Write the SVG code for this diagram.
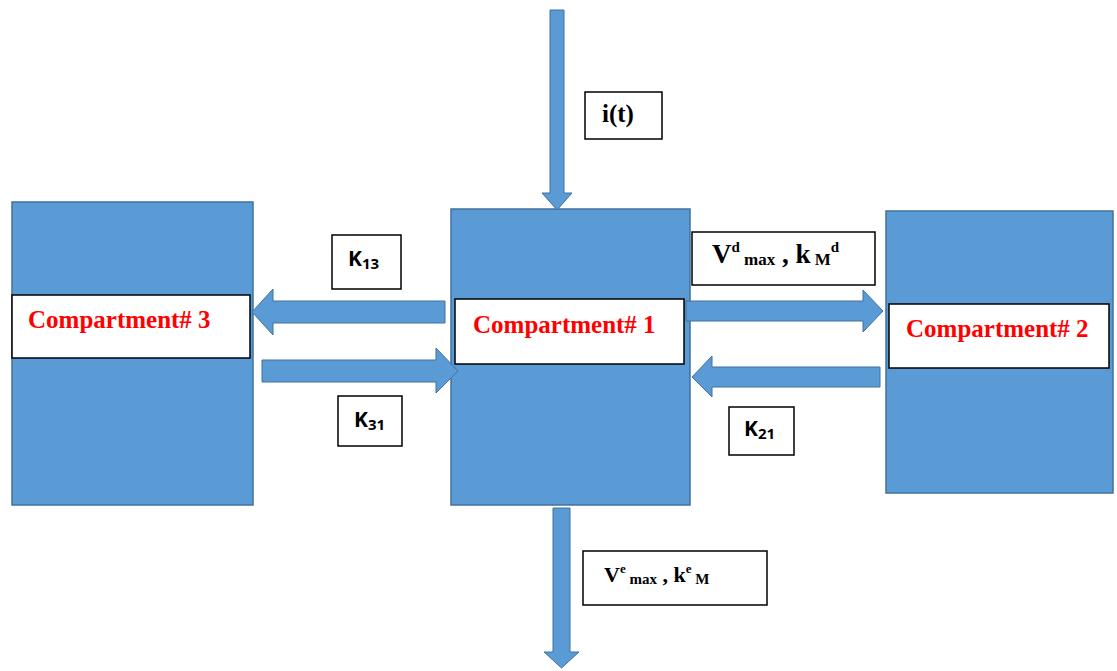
<svg xmlns="http://www.w3.org/2000/svg" width="1117" height="671" viewBox="0 0 1117 671">
<style>
.comp{fill:#5B9BD5;stroke:#41719C;stroke-width:1.5}
.arr{fill:#5B9BD5;stroke:#41719C;stroke-width:1}
.lbl{fill:#fff;stroke:#000;stroke-width:1.5}
.ct{font-family:"Liberation Serif",serif;font-weight:bold;font-size:25px;fill:#FF0000}
.tm{font-family:"Liberation Serif",serif;font-weight:bold;fill:#000}
.k{font-family:"Open Sans","Liberation Sans",sans-serif;font-weight:bold;fill:#000}
</style>
<rect width="1117" height="671" fill="#fff"/>
<g id="compartment3">
<rect class="comp" x="12" y="202" width="241" height="303"/>
<rect class="lbl" x="12" y="295" width="238" height="63"/>
<text class="ct" x="28" y="328">Compartment# 3</text>
</g>
<g id="compartment1">
<rect class="comp" x="451" y="209" width="239" height="296"/>
<rect class="lbl" x="455" y="299" width="229" height="65"/>
<text class="ct" x="473" y="333">Compartment# 1</text>
</g>
<g id="compartment2">
<rect class="comp" x="886" y="211" width="227" height="282"/>
<rect class="lbl" x="889" y="304" width="220" height="64"/>
<text class="ct" x="906" y="337">Compartment# 2</text>
</g>
<g id="connectors">
<polygon class="arr" points="550,10 564,10 564,193 572,193 557,210 542,193 550,193"/>
<polygon class="arr" points="553,508 570,508 570,652 579,652 561.5,668 544,652 553,652"/>
<polygon class="arr" points="445,301 273,301 273,289 252,312 273,335 273,323 445,323"/>
<polygon class="arr" points="262,360 436,360 436,348 458,371 436,393 436,382 262,382"/>
<polygon class="arr" points="686,301 863,301 863,290 883,311 863,332 863,321 686,321"/>
<polygon class="arr" points="880,367 712,367 712,356 692,377 712,397 712,387 880,387"/>
</g>
<g id="label-it">
<rect class="lbl" x="585" y="92" width="77" height="47"/>
<text class="tm" x="602" y="122" font-size="25">i(t)</text>
</g>
<g id="label-k13">
<rect class="lbl" x="332" y="235" width="69" height="54"/>
<text class="k" x="348" y="266" font-size="21">K<tspan font-size="15" dy="3">13</tspan></text>
</g>
<g id="label-k31">
<rect class="lbl" x="338" y="396" width="64" height="50"/>
<text class="k" x="354" y="427" font-size="21">K<tspan font-size="15" dy="3">31</tspan></text>
</g>
<g id="label-k21">
<rect class="lbl" x="729" y="407" width="65" height="48"/>
<text class="k" x="744" y="436" font-size="21">K<tspan font-size="15" dy="3">21</tspan></text>
</g>
<g id="label-vd">
<rect class="lbl" x="692" y="232" width="183" height="53"/>
<text class="tm" x="712" y="263" font-size="27">V<tspan font-size="15" dy="-11">d</tspan><tspan font-size="17" dy="13"> max</tspan><tspan font-size="27" dy="-2"> , k</tspan><tspan font-size="17" dy="2"> M</tspan><tspan font-size="15" dy="-13">d</tspan></text>
</g>
<g id="label-ve">
<rect class="lbl" x="583" y="551" width="184" height="54"/>
<text class="tm" x="604" y="582" font-size="22">V<tspan font-size="13" dy="-9">e</tspan><tspan font-size="15" dy="11"> max</tspan><tspan font-size="22" dy="-2"> , k</tspan><tspan font-size="13" dy="-9">e</tspan><tspan font-size="15" dy="11"> M</tspan></text>
</g>
</svg>
